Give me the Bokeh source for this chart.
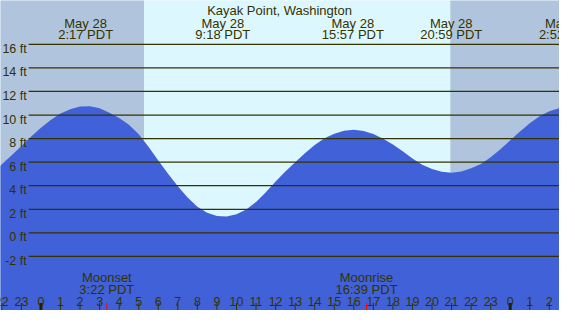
from bokeh.plotting import figure
from bokeh.models import Range1d
from bokeh.core.properties import value
from bokeh.embed import file_html
from bokeh.resources import INLINE

# ---- data ----
title = "Kayak Point, Washington"

tide_hours = [-2.5, -2.0, -1.5, -1.0, -0.5, 0.0, 0.5, 1.0, 1.5, 2.0, 2.5, 3.0, 3.5, 4.0, 4.5,
              5.0, 5.5, 6.0, 6.5, 7.0, 7.5, 8.0, 8.5, 9.0, 9.5, 10.0, 10.5, 11.0, 11.5, 12.0,
              12.5, 13.0, 13.5, 14.0, 14.5, 15.0, 15.5, 16.0, 16.5, 17.0, 17.5, 18.0, 18.5,
              19.0, 19.5, 20.0, 20.5, 21.0, 21.5, 22.0, 22.5, 23.0, 23.5, 24.0, 24.5, 25.0,
              25.5, 26.0, 26.5, 27.0]
tide_ft = [5.10, 5.82, 6.58, 7.38, 8.17, 8.92, 9.58, 10.12, 10.50, 10.72, 10.74, 10.57, 10.20,
           9.75, 9.17, 8.37, 7.30, 6.15, 5.02, 3.95, 3.00, 2.22, 1.70, 1.44, 1.39, 1.58, 1.98,
           2.62, 3.45, 4.35, 5.20, 6.00, 6.75, 7.45, 8.02, 8.42, 8.66, 8.74, 8.65, 8.39, 7.99,
           7.49, 6.93, 6.30, 5.78, 5.42, 5.18, 5.11, 5.21, 5.49, 5.85, 6.42, 7.10, 7.85, 8.60,
           9.30, 9.90, 10.33, 10.57, 10.65]

event_hours = [2.283, 9.3, 15.95, 20.983, 26.87]
event_dates = ["May 28", "May 28", "May 28", "May 28", "May 29"]
event_times = ["2:17 PDT", "9:18 PDT", "15:57 PDT", "20:59 PDT", "2:52 PDT"]

night_start = [-6.0, 20.93]
night_end = [5.27, 30.0]
day_start = [5.27]
day_end = [20.93]

moon_hours = [3.367, 16.65]
moon_names = ["Moonset", "Moonrise"]
moon_times = ["3:22 PDT", "16:39 PDT"]

ft_levels = [-2, 0, 2, 4, 6, 8, 10, 12, 14, 16]
ft_labels = ["-2 ft", "0 ft", "2 ft", "4 ft", "6 ft", "8 ft", "10 ft", "12 ft", "14 ft", "16 ft"]

tick_hours = list(range(-2, 27))
tick_labels = [str(h % 24) for h in tick_hours]
midnight_hours = [0, 24]

# ---- styles ----
FONT = value("Liberation Sans")
TXT = "#333300"
NIGHT = "#b0c4de"
DAY = "#ddf7ff"
WATER = "#4161d8"

p = figure(width=559, height=310, x_range=Range1d(-2.07, 26.52), y_range=Range1d(-6.59, 19.72),
           output_backend="svg", toolbar_location=None, min_border=0)
p.axis.visible = False
p.grid.visible = False
p.outline_line_color = None
p.background_fill_color = DAY

p.quad(left=night_start, right=night_end, bottom=-20, top=30, fill_color=NIGHT, line_color=None)
p.quad(left=day_start, right=day_end, bottom=-20, top=30, fill_color=DAY, line_color=None)

p.varea(x=tide_hours, y1=[-20] * len(tide_hours), y2=tide_ft, fill_color=WATER)

p.segment(x0=[-0.63] * len(ft_levels), x1=[30] * len(ft_levels), y0=ft_levels, y1=ft_levels,
          line_color=TXT, line_width=1.3)
p.text(x=[-0.73] * len(ft_levels), y=ft_levels, text=ft_labels, text_font=FONT,
       text_font_size="12.5px", text_align="right", text_baseline="alphabetic",
       y_offset=4.5, text_color=TXT)

p.text(x=[12.2], y=[18.83], text=[title], text_font=FONT, text_font_size="13px",
       text_align="center", text_baseline="alphabetic", text_color=TXT)
p.text(x=event_hours, y=[17.78] * len(event_hours), text=event_dates, text_font=FONT,
       text_font_size="13px", text_align="center", text_baseline="alphabetic", text_color=TXT)
p.text(x=event_hours, y=[16.81] * len(event_hours), text=event_times, text_font=FONT,
       text_font_size="13px", text_align="center", text_baseline="alphabetic", text_color=TXT)

p.text(x=moon_hours, y=[-3.83] * 2, text=moon_names, text_font=FONT, text_font_size="13px",
       text_align="center", text_baseline="alphabetic", text_color=TXT)
p.text(x=moon_hours, y=[-4.79] * 2, text=moon_times, text_font=FONT, text_font_size="13px",
       text_align="center", text_baseline="alphabetic", text_color=TXT)

p.text(x=tick_hours, y=[-5.79] * len(tick_hours), text=tick_labels, text_font=FONT,
       text_font_size="12.5px", text_align="center", text_baseline="alphabetic", text_color=TXT)
p.segment(x0=tick_hours, x1=tick_hours, y0=[-7] * len(tick_hours), y1=[-5.95] * len(tick_hours),
          line_color=TXT, line_width=1)
p.segment(x0=midnight_hours, x1=midnight_hours, y0=[-7] * 2, y1=[-5.95] * 2,
          line_color="#222200", line_width=3)
p.segment(x0=moon_hours, x1=moon_hours, y0=[-7] * 2, y1=[-5.95] * 2,
          line_color="red", line_width=1)

open("out.html", "w").write(file_html(p, INLINE))
